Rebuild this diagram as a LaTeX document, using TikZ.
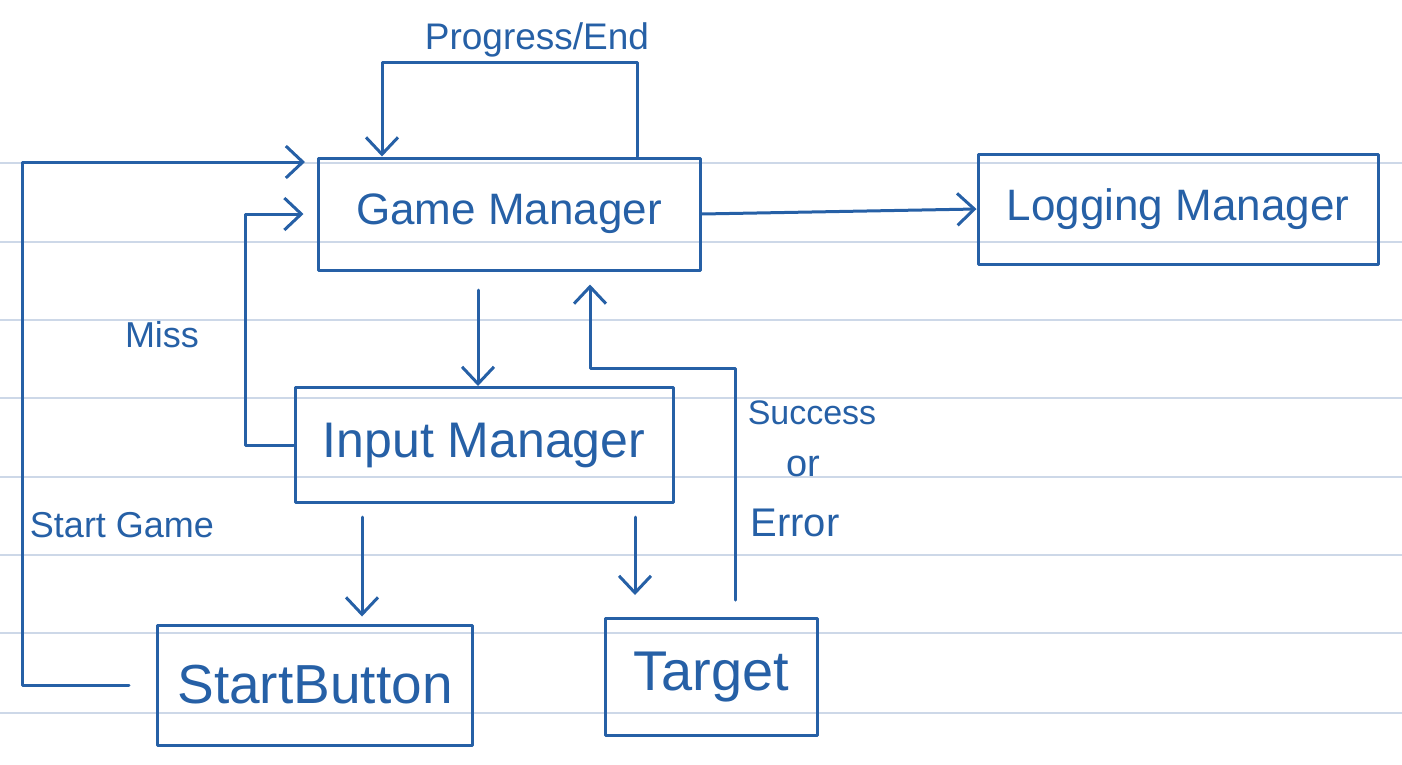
\documentclass[tikz,border=0pt]{standalone}
\usepackage{fontspec}
\setmainfont{Liberation Sans}
\usetikzlibrary{arrows.meta}
\definecolor{ink}{RGB}{38,96,166}
\definecolor{rule}{RGB}{205,216,232}
\begin{document}
\begin{tikzpicture}[x=1pt,y=-1pt,
  ink line/.style={draw=ink, line width=3pt, line join=round, line cap=round},
  box/.style={ink line, rectangle, inner sep=0pt, text=ink},
  arr/.style={ink line, -{Straight Barb[length=17pt,width=32pt]}},
  lbl/.style={text=ink, inner sep=0pt}]
\useasboundingbox (0,0) rectangle (1402,764);
% ruled paper
\foreach \yy in {163,242,320,398,477,555,633,713}
  \draw[rule, line width=2pt] (0,\yy) -- (1402,\yy);
% boxes
\node[box, minimum width=382pt, minimum height=112pt, font=\fontsize{44}{50}\selectfont] (gm) at (509,214) {Game Manager};
\node[box, minimum width=400pt, minimum height=110pt, font=\fontsize{44}{50}\selectfont] (lm) at (1178,209) {Logging Manager};
\node[box, minimum width=378pt, minimum height=115pt, font=\fontsize{50}{56}\selectfont] (im) at (484,445) {Input Manager};
\node[box, minimum width=315pt, minimum height=120pt, font=\fontsize{55}{60}\selectfont] (sb) at (315,685) {StartButton};
\node[box, minimum width=212pt, minimum height=117pt, font=\fontsize{56}{62}\selectfont] (tg) at (711,677) {\raisebox{-8pt}{Target}};
% helper coordinates
\coordinate (loopR) at (637,62);
\coordinate (loopL) at (382,62);
\coordinate (a1) at (478,290);
\coordinate (missc) at (245,214);
\coordinate (sgc) at (22,162);
\coordinate (sgEnd) at (305,162);
\coordinate (a2) at (362,517);
\coordinate (a3) at (635,517);
\coordinate (a4) at (735,600);
\coordinate (scc) at (590,368);
% connectors
\draw[arr] (gm.north -| loopR) |- (loopL) -- (gm.north -| loopL);
\draw[arr] (gm.east) -- (lm.west);
\draw[arr] (a1) -- (a1 |- im.north);
\draw[arr, shorten >=13pt] (im.west) -| (missc) -- (gm.west);
\draw[arr] ([xshift=-27pt]sb.west) -| (sgc) -- (sgEnd);
\draw[arr, shorten >=7pt] (a2) -- (a2 |- sb.north);
\draw[arr, shorten >=22pt] (a3) -- (a3 |- tg.north);
\draw[arr, shorten >=13pt] (a4) |- (scc) -- (scc |- gm.south);
% labels
\node[lbl, font=\fontsize{37}{42}\selectfont] (lprog) at (537,40) {Progress/End};
\node[lbl, font=\fontsize{36}{42}\selectfont] (lmiss) at (162,335) {Miss};
\node[lbl, font=\fontsize{36}{42}\selectfont] (lsg) at (122,525) {Start Game};
\node[lbl, font=\fontsize{34}{40}\selectfont] (lsucc) at (812,413) {Success};
\node[lbl, font=\fontsize{38}{44}\selectfont] (lor) at (803,466) {or};
\node[lbl, font=\fontsize{40}{46}\selectfont] (lerr) at (795,523) {Error};
\end{tikzpicture}
\end{document}
